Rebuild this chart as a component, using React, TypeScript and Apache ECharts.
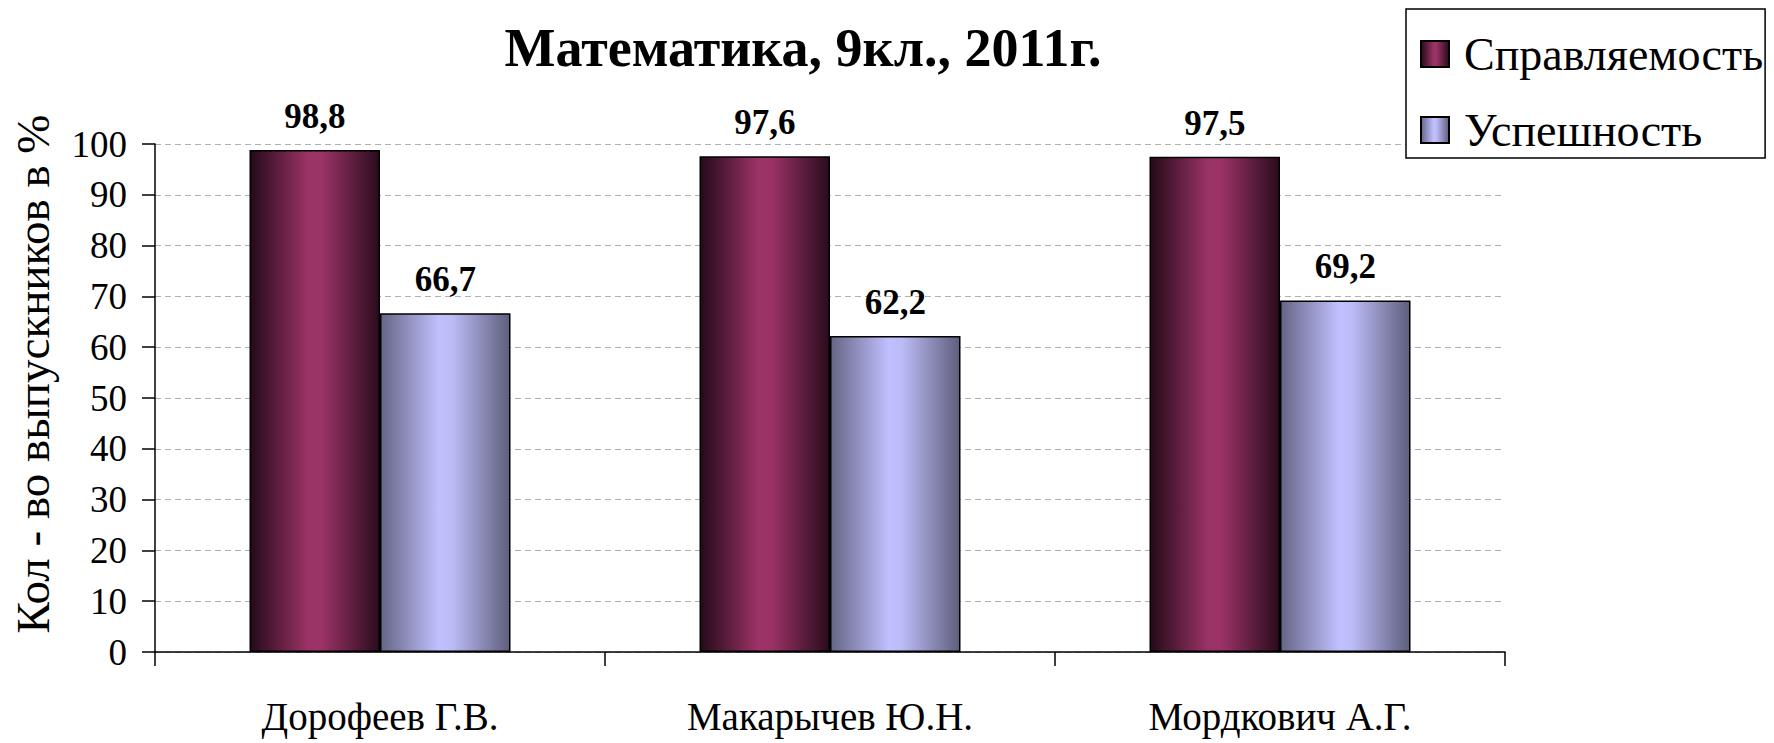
import React, { useEffect, useRef } from "react";
import * as echarts from "echarts";

const categories = ["Дорофеев Г.В.", "Макарычев Ю.Н.", "Мордкович А.Г."];
const seriesNames = ["Справляемость", "Успешность"];
const spravlyaemost = [98.8, 97.6, 97.5];
const uspeshnost = [66.7, 62.2, 69.2];
const titleText = "Математика, 9кл., 2011г.";
const yAxisName = "Кол - во выпускников в %";

const FONT = "Liberation Serif";

const purpleGrad = new echarts.graphic.LinearGradient(0, 0, 1, 0, [
  { offset: 0, color: "#240a19" },
  { offset: 0.45, color: "#9b3366" },
  { offset: 0.55, color: "#9b3366" },
  { offset: 1, color: "#2a0c1d" },
]);
const blueGrad = new echarts.graphic.LinearGradient(0, 0, 1, 0, [
  { offset: 0, color: "#656585" },
  { offset: 0.45, color: "#c0c0ff" },
  { offset: 0.55, color: "#bcbcf8" },
  { offset: 1, color: "#5e5e7c" },
]);

export default function App() {
  const ref = useRef<HTMLDivElement>(null);
  useEffect(() => {
    if (!ref.current) return;
    const chart = echarts.init(ref.current, null, { renderer: "svg" });
    const fmt = (p: any) => String(p.value).replace(".", ",");
    chart.setOption({
      animation: false,
      backgroundColor: "#ffffff",
      textStyle: { fontFamily: FONT },
      graphic: [
        {
          type: "text",
          x: 803,
          y: 48,
          style: {
            text: titleText,
            fontFamily: FONT,
            fontWeight: "bold",
            fontSize: 54,
            fill: "#000",
            textAlign: "center",
            textVerticalAlign: "middle",
          },
        },
        {
          type: "text",
          x: 33,
          y: 374,
          rotation: Math.PI / 2,
          style: {
            text: yAxisName,
            fontFamily: FONT,
            fontSize: 47,
            fill: "#000",
            textAlign: "center",
            textVerticalAlign: "middle",
          },
        },
      ],
      legend: {
        orient: "vertical",
        left: 1406,
        top: 9,
        padding: [20, 2, 3, 14],
        itemWidth: 28,
        itemHeight: 26,
        itemGap: 26,
        borderColor: "#000",
        borderWidth: 1.5,
        backgroundColor: "#fff",
        icon: "rect",
        textStyle: {
          fontFamily: FONT,
          fontSize: 46,
          lineHeight: 50,
          color: "#000",
          padding: [0, 0, 0, 10],
        },
        data: seriesNames,
      },
      grid: { left: 155, right: 269, top: 144, bottom: 91, containLabel: false },
      xAxis: {
        type: "category",
        data: categories,
        axisLine: { lineStyle: { color: "#000", width: 1.5 } },
        axisTick: { show: true, length: 14, lineStyle: { color: "#000", width: 1.5 } },
        axisLabel: { color: "#000", fontFamily: FONT, fontSize: 39, margin: 45 },
      },
      yAxis: {
        type: "value",
        min: 0,
        max: 100,
        interval: 10,
        axisLine: { show: true, lineStyle: { color: "#000", width: 1.5 } },
        axisTick: { show: true, length: 13, lineStyle: { color: "#000", width: 1.5 } },
        axisLabel: { color: "#000", fontFamily: FONT, fontSize: 37, margin: 28 },
        splitLine: { show: true, lineStyle: { color: "#b0b0b0", type: [6, 4], width: 1 } },
      },
      series: [
        {
          name: seriesNames[0],
          type: "bar",
          data: spravlyaemost,
          barGap: "0%",
          barCategoryGap: "42%",
          itemStyle: { color: purpleGrad, borderColor: "#000", borderWidth: 1.5 },
          label: {
            show: true,
            position: "top",
            distance: 16,
            formatter: fmt,
            fontFamily: FONT,
            fontWeight: "bold",
            fontSize: 35,
            color: "#000",
          },
        },
        {
          name: seriesNames[1],
          type: "bar",
          data: uspeshnost,
          barGap: "0%",
          barCategoryGap: "42%",
          itemStyle: { color: blueGrad, borderColor: "#000", borderWidth: 1.5 },
          label: {
            show: true,
            position: "top",
            distance: 16,
            formatter: fmt,
            fontFamily: FONT,
            fontWeight: "bold",
            fontSize: 35,
            color: "#000",
          },
        },
      ],
    });
    return () => chart.dispose();
  }, []);
  return (
    <div
      ref={ref}
      style={{ position: "fixed", left: 0, top: 0, width: 1774, height: 743, background: "#fff" }}
    />
  );
}
